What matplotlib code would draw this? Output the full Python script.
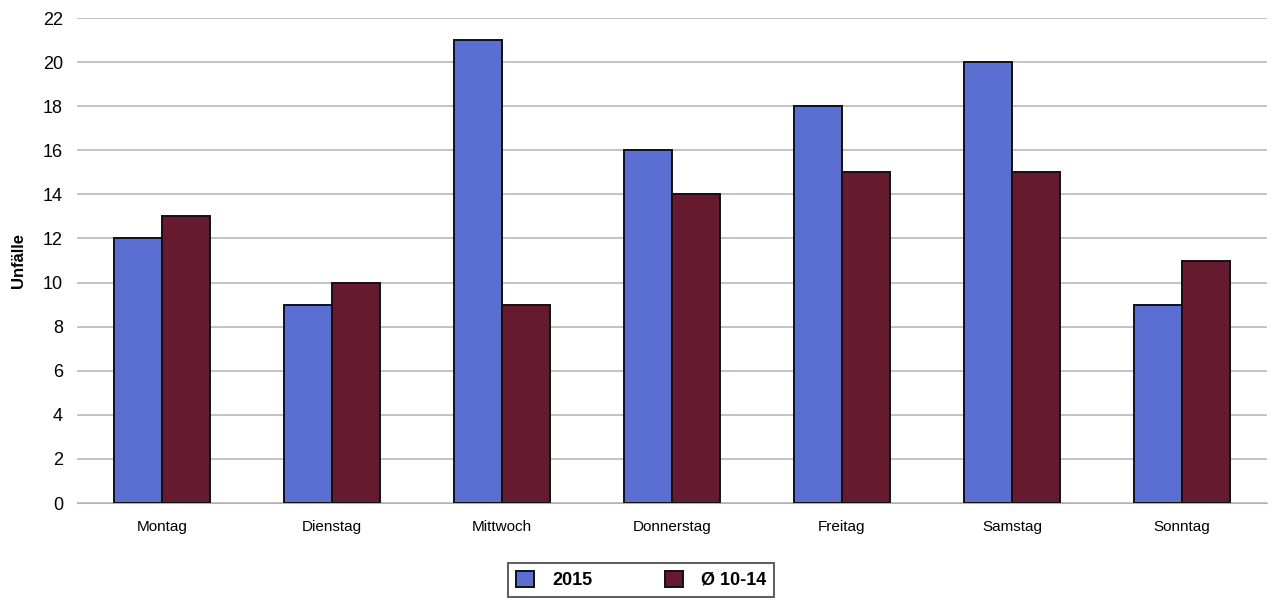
import matplotlib
matplotlib.use("Agg")
import matplotlib.pyplot as plt
import numpy as np

plt.rcParams['font.family'] = ['Liberation Sans', 'DejaVu Sans']

tage = ["Montag", "Dienstag", "Mittwoch", "Donnerstag", "Freitag", "Samstag", "Sonntag"]
unfaelle_2015 = [12, 9, 21, 16, 18, 20, 9]
unfaelle_schnitt = [13, 10, 9, 14, 15, 15, 11]

x = np.arange(len(tage))
w = 0.28

fig = plt.figure(figsize=(12.75, 6.01), dpi=100)
ax = fig.add_axes([0.0604, 0.163, 0.9333, 0.807])

ax.bar(x - w / 2, unfaelle_2015, w, color="#5b6fd2", edgecolor="#111111", linewidth=1.4, label="2015", zorder=3)
ax.bar(x + w / 2, unfaelle_schnitt, w, color="#661a30", edgecolor="#111111", linewidth=1.4, label="Ø 10-14", zorder=3)

ax.set_xlim(-0.5, len(tage) - 0.5)
ax.set_ylim(0, 22)
ax.set_yticks(range(0, 23, 2))
ax.set_xticks(x)
ax.set_xticklabels(tage, fontsize=11)
ax.tick_params(axis="y", labelsize=13, length=0, pad=10)
ax.tick_params(axis="x", length=0, pad=12)
ax.yaxis.grid(True, color="#b8b8c0", linewidth=1.2, zorder=0)
for s in ["left", "right", "top"]:
    ax.spines[s].set_visible(False)
ax.spines["bottom"].set_color("#b0b0b0")
ax.set_ylabel("Unfälle", fontsize=12, fontweight="bold", labelpad=12)

leg = fig.legend(loc="upper center", bbox_to_anchor=(0.503, 0.064), ncol=2,
                 prop={"weight": "bold", "size": 13}, frameon=True, fancybox=False,
                 edgecolor="#333333", handlelength=1.0, handleheight=1.0, columnspacing=4.0,
                 handletextpad=1.0, borderpad=0.45, borderaxespad=0)
leg.get_frame().set_linewidth(1.4)

fig.savefig("out.png", dpi=100)
